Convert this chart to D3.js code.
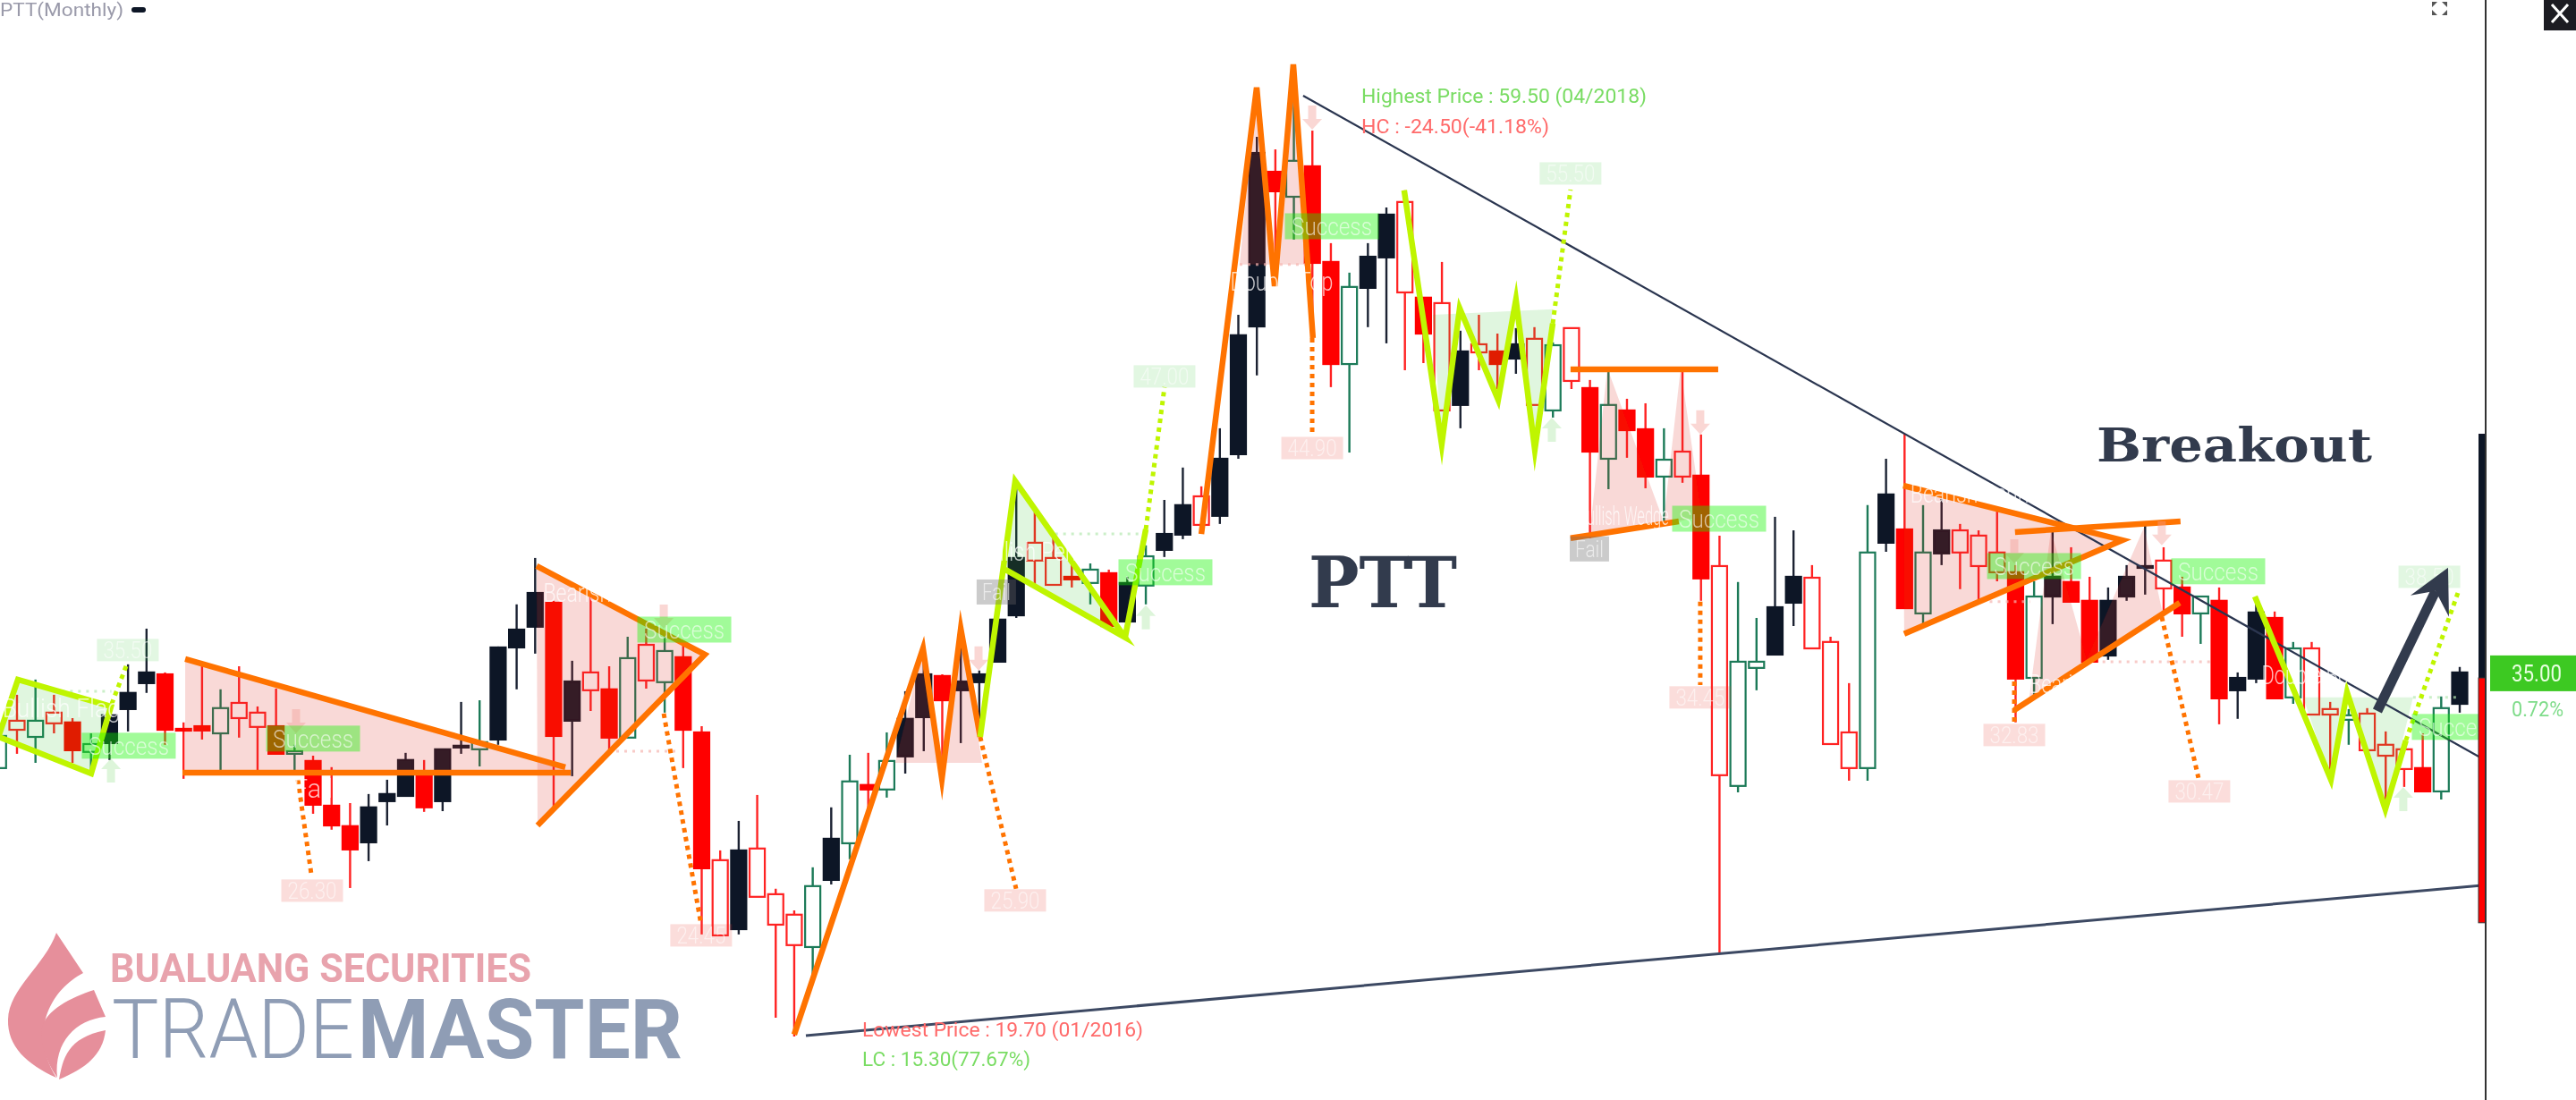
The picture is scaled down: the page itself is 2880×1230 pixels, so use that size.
<!DOCTYPE html>
<html>
<head>
    <meta charset="utf-8" />
    <title>PTT monthly breakout</title>
    <style>
        html, body { margin: 0; padding: 0; background: #fff; overflow: hidden; }
    </style>
    <script src="https://cdnjs.cloudflare.com/ajax/libs/d3/7.8.5/d3.min.js"></script>
</head>
<body>
    <div id="svg"></div>

    <script type="text/javascript">
        // monthly candles, index 43 = 01/2016, index 70 = 04/2018
        // K black solid, R red solid, r red hollow, g green hollow
        var kinds = ('grgrRgKKKR' + 'RRgrrRgRRR' + 'KKKRKKgKKK' + 'RKrRgrgRRr' + 'KrrrgKgRgK' +
            'KRKKKKrrRg' + 'RKgKKrKKKR' + 'gRRgKKrRrK' + 'rRKrgrRgRR' + 'grRrggKKrr' +
            'rgKRgKrrrR' + 'gKRRKKKrRg' + 'RKKRgrrgrr' + 'rRgK').split('');

        var bodyTops = [32.33,32.97,32.97,33.31,32.90,31.99,33.20,34.14,35.00,34.92,
            32.63,32.74,33.50,33.72,33.31,32.74,31.69,31.28,29.40,28.54,
            29.33,29.89,31.32,30.83,31.77,31.92,32.07,36.05,36.80,38.34,
            37.93,34.62,35.00,34.29,35.60,36.16,35.90,35.64,32.48,27.11,
            27.52,27.60,25.68,24.82,26.02,28.01,30.42,30.27,31.28,33.05,
            34.92,34.85,34.62,34.92,37.22,39.81,40.45,39.81,39.02,39.32,
            39.17,38.76,39.88,40.82,42.03,42.40,43.98,49.17,56.83,56.04,
            56.50,56.27,52.25,51.20,52.47,54.24,54.77,50.75,50.52,48.49,
            48.79,48.49,48.79,49.02,48.75,49.47,46.95,46.24,46.01,45.22,
            43.94,44.28,43.27,39.47,35.45,35.45,37.74,39.02,38.98,36.28,
            32.48,40.04,42.48,41.01,40.04,40.97,40.97,40.75,40.04,39.21,
            38.19,39.02,38.80,38.01,38.01,39.02,39.47,39.70,38.57,38.19,
            38.01,34.77,37.52,37.29,36.01,36.01,33.46,33.20,33.27,31.96,
            31.77,30.98,33.50,35.00];

        var bodyBottoms = [30.98,32.59,32.29,32.86,31.73,31.66,32.03,33.46,34.55,32.59,
            32.56,32.56,32.44,33.08,32.71,31.58,31.58,29.44,28.57,27.56,
            27.86,29.59,29.81,29.33,29.59,31.88,31.77,32.18,36.05,36.92,
            32.33,32.97,34.25,32.26,32.26,34.66,34.59,32.59,26.77,23.95,
            24.21,25.57,24.40,23.54,23.46,26.28,27.82,30.08,30.08,31.47,
            33.12,33.83,34.25,34.59,35.45,37.40,39.70,38.68,38.91,38.76,
            36.95,37.14,38.65,40.15,40.79,41.20,41.58,44.17,49.54,55.22,
            54.99,52.21,47.96,47.96,51.16,52.44,50.97,49.24,46.01,46.24,
            48.45,47.96,48.19,46.24,46.01,47.25,44.28,43.98,45.18,43.23,
            43.23,43.23,38.95,30.68,30.23,35.19,35.75,37.93,36.01,31.99,
            30.98,30.98,40.45,37.70,37.48,40.00,40.04,39.47,39.21,34.74,
            34.77,38.19,37.97,35.45,35.71,38.19,39.43,38.53,37.48,37.48,
            33.91,34.25,34.74,33.91,33.95,33.23,33.23,33.01,31.73,31.50,
            30.94,30.00,30.00,33.68];

        var highs = [32.56,34.06,34.70,34.06,33.08,32.44,33.31,35.34,36.84,35.00,
            32.90,35.26,34.29,35.26,33.57,34.32,31.96,31.50,31.02,29.51,
            29.89,30.49,31.62,31.32,31.77,33.76,33.83,36.09,37.86,39.81,
            38.01,35.49,38.19,35.26,36.50,36.84,36.58,36.13,32.74,27.52,
            28.76,29.85,25.91,25.00,26.81,29.33,31.54,31.62,32.48,34.21,
            35.53,34.92,36.20,35.08,37.22,43.04,41.73,40.64,39.66,39.58,
            39.32,39.02,40.34,42.25,43.61,42.82,45.26,50.03,57.51,56.98,
            59.50,57.77,53.04,51.80,53.04,54.54,55.26,50.75,52.25,49.36,
            50.03,49.24,49.47,49.51,48.87,49.47,47.29,47.78,46.50,46.31,
            45.26,47.78,45.00,40.75,38.80,37.29,41.54,40.97,39.51,36.50,
            34.55,42.03,43.98,45.03,42.03,42.29,41.24,40.97,41.95,39.51,
            38.83,40.90,40.26,39.02,38.57,39.51,41.16,40.26,39.02,38.19,
            38.57,35.00,38.19,37.56,36.28,36.28,33.76,33.46,33.50,32.52,
            31.77,32.44,33.99,35.23];

        var lows = [30.94,31.58,31.20,32.44,31.20,30.83,31.32,32.52,34.14,31.96,
            30.53,32.18,30.83,32.26,30.68,31.58,30.83,29.06,28.39,25.94,
            27.07,28.57,29.81,29.14,29.17,31.58,31.05,31.96,34.29,35.79,
            29.36,30.64,33.38,31.69,32.26,34.32,33.31,30.98,23.99,23.95,
            23.99,25.57,20.49,19.70,22.26,26.09,27.15,29.06,29.74,30.75,
            31.69,30.94,32.03,33.05,35.41,37.29,38.72,38.68,38.57,37.86,
            36.88,37.14,37.86,39.85,40.60,41.20,41.24,43.98,47.48,51.23,
            53.19,48.98,46.99,44.24,49.51,48.83,47.70,48.00,46.01,45.26,
            47.70,46.91,47.55,46.24,45.71,46.91,40.64,42.70,44.02,42.74,
            41.28,42.97,38.01,23.16,29.96,34.25,35.75,36.95,36.01,31.99,
            30.45,30.45,40.07,37.70,37.03,39.51,38.50,38.01,38.83,32.90,
            34.02,37.03,37.97,35.45,35.53,38.01,38.27,37.52,36.50,36.20,
            32.82,33.05,34.55,33.91,33.68,33.23,30.68,31.96,31.73,29.55,
            30.19,30.00,29.66,33.31];

        // pattern outlines, [month index, price]
        var orangeLines = [
            [[10.09,35.56],[30.63,31.02]],
            [[9.94,30.79],[30.92,30.79]],
            [[29.08,39.47],[38.17,35.75],[29.13,28.57]],
            [[43.0,19.78],[49.96,36.01],[50.98,30.53],[52.0,36.84],[53.05,32.29]],
            [[65.0,40.82],[67.99,59.58],[68.96,51.23],[69.97,60.55],[71.03,49.05]],
            [[84.95,47.74],[92.93,47.74]],
            [[84.95,40.64],[90.8,41.35]],
            [[102.93,42.85],[114.77,40.56],[102.98,36.62]],
            [[108.97,40.90],[117.91,41.35]],
            [[108.93,33.42],[117.87,37.93]]
        ];
        var limeLines = [
            [[0,32.3],[1.05,34.7],[6.08,33.57],[5.01,30.75],[0,32.3]],
            [[53.05,32.29],[54.94,43.04],[60.88,36.47],[54.41,39.32]],
            [[60.88,36.47],[62.0,41.01]],
            [[75.96,55.26],[77.99,44.58],[78.96,50.3],[81.04,46.46],[82.0,50.67],[83.02,44.36],[83.99,49.66]],
            [[121.93,38.19],[126.04,30.49],[126.91,34.17],[128.98,29.25],[130.09,32.14]]
        ];
        var orangeDots = [
            [[16.18,30.49],[16.9,26.54]],
            [[35.95,33.27],[37.97,24.40]],
            [[53.05,32.29],[54.99,25.91]],
            [[70.99,49.05],[70.99,44.96]],
            [[91.96,37.97],[91.96,34.47]],
            [[108.93,34.62],[108.93,32.86]],
            [[116.9,37.33],[118.88,30.57]]
        ];
        var limeDots = [
            [[6.12,33.68],[6.95,35.37]],
            [[62.0,41.01],[63.01,46.99]],
            [[83.99,49.66],[84.95,55.29]],
            [[130.09,32.14],[132.9,38.34]]
        ];
        var redFills = [
            [[10.09,35.56],[30.63,31.02],[30.63,30.79],[10.09,30.79]],
            [[29.08,39.47],[38.17,35.75],[29.13,28.57]],
            [[48.46,31.20],[49.96,36.01],[50.98,31.20],[52.0,36.84],[53.15,31.20]],
            [[67.07,52.14],[67.99,59.58],[68.96,52.14],[69.97,60.55],[70.79,52.14]],
            [[85.97,40.71],[86.94,47.78],[89.98,41.35],[90.9,47.78],[92.06,41.54]],
            [[102.93,42.85],[114.77,40.56],[102.98,36.62]],
            [[109.7,33.68],[110.91,40.97],[112.84,35.56],[115.94,41.09],[116.95,37.48]]
        ];
        var greenFills = [
            [[0,32.3],[1.05,34.7],[6.08,33.57],[5.01,30.75]],
            [[54.94,43.04],[60.88,36.47],[54.41,39.32]],
            [[77.51,50.03],[77.99,44.58],[78.96,50.03],[81.04,46.46],[82.0,50.18],[83.02,44.36],[83.99,50.26]],
            [[124.54,33.95],[126.04,30.49],[126.91,33.95],[128.98,29.25],[130.48,33.95]]
        ];
        var paleRedRules = [
            [[32.95,31.69],[36.8,31.69]],
            [[113.7,35.45],[119.5,35.45]],
            [[107.6,37.97],[109.8,37.97]],
            [[67.07,52.14],[70.79,52.14]]
        ];
        var paleGreenRules = [
            [[3,34.21],[6.1,34.21]],
            [[57.1,40.82],[62,40.82]],
            [[130.48,33.95],[132.9,33.95]]
        ];
        var resistanceLine = [[70.5,59.24],[134.35,31.32]];
        var supportLine = [[43.63,19.74],[134.35,26.06]];
        var breakoutArrow = [[128.55,33.38],[132.37,39.40]];

        // labels, [month index, price, text]
        var successLabels = [
            [7.04,31.92],[17.0,32.22],[37.06,36.8],[63.06,39.21],[72.05,53.75],
            [92.98,41.46],[110.0,39.47],[119.95,39.25],[132.95,32.71]
        ];
        var upTargets = [[6.99,35.94,'35.50'],[63.01,47.44,'47.00'],[84.95,55.97,'55.50'],[131.36,39.02,'38.50']];
        var downTargets = [
            [16.95,25.83,'26.30'],[37.97,23.95,'24.45'],[54.94,25.42,'25.90'],[70.99,44.43,'44.90'],
            [91.96,33.95,'34.45'],[108.93,32.37,'32.83'],[118.93,30.00,'30.47']
        ];
        var failLabels = [[53.92,38.38],[85.97,40.19]];
        var patternNames = [
            [3.4,33.5,'Bullish Flag',132],[33.43,38.34,'Bearish Pennant',165],[17.0,30.11,'Fail',44],
            [69.34,51.42,'Double Top',115],[56.63,40.07,'Bullish Pennant',160],[87.8,41.58,'Bullish Wedge',102],
            [107.3,42.51,'Bearish Pennant',165],[113.2,34.51,'Bearish Wedge',143],[125.75,34.89,'Double Bottom',143]
        ];
        var downArrows = [[16.08,32.44],[35.95,36.84],[52.96,35.08],[70.99,57.81],[91.96,45.0],[108.93,39.58],[116.9,40.34]];
        var upArrows = [[6.08,31.39],[62.0,37.82],[83.94,45.71],[129.95,30.19]];

        var lastPrice = 35.00,
            changeText = '0.72%';
        var sideBarStops = [45.03, 34.77, 24.48];

        var width = 2880,
            height = 1230,
            axisX = 2779;

        var colors = {
            black: '#0f1626',
            red: '#ff0000',
            hollowRed: '#ff2222',
            green: '#1c7a58',
            orange: '#ff7300',
            lime: '#bff500',
            ink: '#333b4d'
        };

        var svg = d3.select('#svg')
            .append('svg')
            .attr('width', width)
            .attr('height', height)
            .style('display', 'block');

        var defs = svg.append('defs');
        defs.append('filter').attr('id', 'soft')
            .attr('x', 0).attr('y', 0).attr('width', 1).attr('height', 1)
            .attr('filterUnits', 'objectBoundingBox')
            .append('feGaussianBlur').attr('stdDeviation', 0.6);
        defs.append('clipPath').attr('id', 'plot')
            .append('rect').attr('width', axisX - 1).attr('height', height);

        var root = svg.append('g').attr('filter', 'url(#soft)');
        root.append('rect').attr('width', width).attr('height', height).attr('fill', '#fff');

        var xScale = d3.scaleLinear().domain([0, 133]).range([-1.7, 2750]);
        var yScale = d3.scaleLinear().domain([19.7, 59.5]).range([1159, 100]);

        var line = d3.line().x(d => xScale(d[0])).y(d => yScale(d[1]));

        var plot = root.append('g').attr('clip-path', 'url(#plot)');

        // candles
        var wickColor = { K: '#1a2233', R: colors.hollowRed, r: colors.hollowRed, g: colors.green };
        var bodyFill = { K: colors.black, R: colors.red, r: '#fff', g: '#fff' };
        var bodyStroke = { K: colors.black, R: colors.red, r: colors.hollowRed, g: colors.green };
        var index = d3.range(kinds.length);

        plot.selectAll('.wick')
            .data(index)
            .enter()
            .append('line')
            .attr('x1', i => xScale(i))
            .attr('x2', i => xScale(i))
            .attr('y1', i => yScale(highs[i]))
            .attr('y2', i => yScale(lows[i]))
            .attr('stroke', i => wickColor[kinds[i]])
            .attr('stroke-width', 2.4);

        plot.selectAll('.body')
            .data(index)
            .enter()
            .append('rect')
            .attr('x', i => xScale(i) - 8.5)
            .attr('width', 17)
            .attr('y', i => yScale(bodyTops[i]))
            .attr('height', i => Math.max(2, yScale(bodyBottoms[i]) - yScale(bodyTops[i])))
            .attr('fill', i => bodyFill[kinds[i]])
            .attr('stroke', i => bodyStroke[kinds[i]])
            .attr('stroke-width', 2.2);

        // pattern areas
        function drawAreas(data, fill, opacity) {
            plot.append('g').selectAll('path')
                .data(data)
                .enter()
                .append('path')
                .attr('d', d => line(d) + 'Z')
                .attr('fill', fill)
                .attr('opacity', opacity);
        }
        drawAreas(redFills, '#de2c21', 0.18);
        drawAreas(greenFills, '#2fc22a', 0.15);

        function drawLines(data, color, widthPx, dash, opacity) {
            plot.append('g').selectAll('path')
                .data(data)
                .enter()
                .append('path')
                .attr('d', line)
                .attr('fill', 'none')
                .attr('stroke', color)
                .attr('stroke-width', widthPx)
                .attr('stroke-linejoin', 'miter')
                .attr('stroke-miterlimit', 8)
                .attr('stroke-dasharray', dash)
                .attr('opacity', opacity === undefined ? 1 : opacity);
        }

        drawLines(paleRedRules, '#f5b5b0', 3, '3 6', 0.7);
        drawLines(paleGreenRules, '#b5e8b0', 3, '3 6', 0.7);
        drawLines([resistanceLine], '#2b3650', 2.2);
        drawLines([supportLine], '#3c4a63', 3);
        drawLines(orangeDots, colors.orange, 5, '5 5');
        drawLines(limeDots, colors.lime, 5, '5 5');
        drawLines(orangeLines, colors.orange, 6.5);
        drawLines(limeLines, colors.lime, 6.5);

        // pale signal arrows
        var arrowDown = 'M-4.5,-27H4.5V-12H11L0,0L-11,-12H-4.5Z';
        var arrowUp = 'M-4.5,27H4.5V12H11L0,0L-11,12H-4.5Z';
        plot.append('g').selectAll('path')
            .data(downArrows)
            .enter()
            .append('path')
            .attr('d', arrowDown)
            .attr('transform', d => 'translate(' + xScale(d[0]) + ',' + yScale(d[1]) + ')')
            .attr('fill', '#f39a94')
            .attr('opacity', 0.4);
        plot.append('g').selectAll('path')
            .data(upArrows)
            .enter()
            .append('path')
            .attr('d', arrowUp)
            .attr('transform', d => 'translate(' + xScale(d[0]) + ',' + yScale(d[1]) + ')')
            .attr('fill', '#a9e6a2')
            .attr('opacity', 0.4);

        var labelFont = 'Roboto, sans-serif';

        function tagText(sel, fill, size, lengthPx) {
            sel.attr('text-anchor', 'middle')
                .attr('font-family', labelFont)
                .attr('font-weight', 300)
                .attr('font-size', size)
                .attr('fill', fill)
                .attr('textLength', lengthPx)
                .attr('lengthAdjust', 'spacingAndGlyphs');
        }

        // hidden white pattern names, they only show over candles and fills
        tagText(plot.append('g').selectAll('text')
            .data(patternNames)
            .enter()
            .append('text')
            .attr('x', d => xScale(d[0]))
            .attr('y', d => yScale(d[1]) + 10)
            .attr('opacity', 0.75)
            .text(d => d[2]), '#fff', 29, d => d[3]);

        function boxedLabels(data, text, w, h, fill, opacity, ink, size, textW) {
            var g = plot.append('g').selectAll('g')
                .data(data)
                .enter()
                .append('g')
                .attr('transform', d => 'translate(' + xScale(d[0]) + ',' + yScale(d[1]) + ')');
            g.append('rect')
                .attr('x', -w / 2)
                .attr('y', -h / 2)
                .attr('width', w)
                .attr('height', h)
                .attr('fill', fill)
                .attr('opacity', opacity);
            var label = g.append('text')
                .attr('y', size * 0.36)
                .text(text);
            tagText(label, ink, size, textW);
        }

        boxedLabels(successLabels, 'Success', 105, 29, '#14f500', 0.4, 'rgba(255,255,255,0.6)', 27, 90);
        boxedLabels(upTargets, d => d[2], 69, 25, '#3cc83a', 0.15, 'rgba(255,255,255,0.55)', 25, 55);
        boxedLabels(downTargets, d => d[2], 69, 25, '#e8443a', 0.18, 'rgba(255,255,255,0.55)', 25, 55);
        boxedLabels(failLabels, 'Fail', 44, 28, '#6a6a6a', 0.35, 'rgba(255,255,255,0.6)', 25, 32);

        // breakout arrow
        var tip = [xScale(breakoutArrow[1][0]), yScale(breakoutArrow[1][1])];
        plot.append('line')
            .attr('x1', xScale(breakoutArrow[0][0]))
            .attr('y1', yScale(breakoutArrow[0][1]))
            .attr('x2', tip[0] - 14)
            .attr('y2', tip[1] + 26)
            .attr('stroke', colors.ink)
            .attr('stroke-width', 11);
        plot.append('polygon')
            .attr('points', [[0, 0], [-42, 31], [-14, 26], [1, 55]].map(p => (tip[0] + p[0]) + ',' + (tip[1] + p[1])).join(' '))
            .attr('fill', colors.ink);

        // price extreme notes
        var notes = [
            ['Highest Price : 59.50 (04/2018)', 1522, 115, 319, '#79dc63'],
            ['HC : -24.50(-41.18%)', 1522, 149, 210, '#ff6a6a'],
            ['Lowest Price : 19.70 (01/2016)', 964, 1159, 314, '#ff6a6a'],
            ['LC : 15.30(77.67%)', 964, 1192, 188, '#79dc63']
        ];
        root.append('g').selectAll('text')
            .data(notes)
            .enter()
            .append('text')
            .attr('x', d => d[1])
            .attr('y', d => d[2])
            .attr('textLength', d => d[3])
            .attr('lengthAdjust', 'spacingAndGlyphs')
            .attr('font-family', labelFont)
            .attr('font-size', 22)
            .attr('fill', d => d[4])
            .text(d => d[0]);

        // big hand written titles
        root.append('text')
            .attr('x', 1463).attr('y', 679)
            .attr('textLength', 166).attr('lengthAdjust', 'spacingAndGlyphs')
            .attr('font-family', '"DejaVu Serif", serif').attr('font-weight', 700)
            .attr('font-size', 78).attr('fill', colors.ink)
            .text('PTT');
        root.append('text')
            .attr('x', 2344).attr('y', 516)
            .attr('textLength', 308).attr('lengthAdjust', 'spacingAndGlyphs')
            .attr('font-family', '"DejaVu Serif", serif').attr('font-weight', 700)
            .attr('font-size', 53).attr('fill', colors.ink)
            .text('Breakout');

        // side bar and axis edge
        root.append('rect')
            .attr('x', axisX - 8).attr('width', 8)
            .attr('y', yScale(sideBarStops[0]))
            .attr('height', yScale(sideBarStops[1]) - yScale(sideBarStops[0]))
            .attr('fill', colors.black);
        root.append('rect')
            .attr('x', axisX - 8).attr('width', 8)
            .attr('y', yScale(sideBarStops[1]))
            .attr('height', yScale(sideBarStops[2]) - yScale(sideBarStops[1]))
            .attr('fill', colors.red)
            .attr('stroke', '#333').attr('stroke-width', 1);
        root.append('line')
            .attr('x1', axisX).attr('x2', axisX)
            .attr('y1', 0).attr('y2', height)
            .attr('stroke', '#333').attr('stroke-width', 2);

        // last price tag
        root.append('rect')
            .attr('x', 2784).attr('width', 96)
            .attr('y', yScale(lastPrice) - 19).attr('height', 40)
            .attr('fill', '#3ec924');
        root.append('text')
            .attr('x', 2836).attr('y', yScale(lastPrice) + 10)
            .attr('text-anchor', 'middle')
            .attr('textLength', 56).attr('lengthAdjust', 'spacingAndGlyphs')
            .attr('font-family', labelFont).attr('font-size', 25)
            .attr('fill', '#e8ffe0')
            .text(lastPrice.toFixed(2));
        root.append('text')
            .attr('x', 2837).attr('y', yScale(lastPrice) + 49)
            .attr('text-anchor', 'middle')
            .attr('textLength', 58).attr('lengthAdjust', 'spacingAndGlyphs')
            .attr('font-family', labelFont).attr('font-size', 23)
            .attr('fill', '#7fdc8a')
            .text(changeText);

        // chart title and window buttons
        root.append('text')
            .attr('x', 0).attr('y', 18)
            .attr('textLength', 138).attr('lengthAdjust', 'spacingAndGlyphs')
            .attr('font-family', labelFont).attr('font-size', 21)
            .attr('fill', '#9a9aaa')
            .text('PTT(Monthly)');
        root.append('rect')
            .attr('x', 147).attr('y', 8).attr('width', 16).attr('height', 6).attr('rx', 3)
            .attr('fill', colors.black);

        root.append('rect')
            .attr('x', 2844).attr('y', 0).attr('width', 36).attr('height', 34)
            .attr('fill', '#1c1f24');
        root.append('path')
            .attr('d', 'M2853,5L2871,25M2871,5L2853,25')
            .attr('stroke', '#fff').attr('stroke-width', 3);
        root.append('path')
            .attr('d', 'M2719,2h6l-6,6zM2736,2h-6l6,6zM2719,17h6l-6,-6zM2736,17h-6l6,-6z')
            .attr('fill', '#555');

        // broker logo
        var logo = root.append('g');
        logo.append('path')
            .attr('d', 'M63,1043L93,1088C60,1105 30,1150 63,1205C30,1190 8,1170 9,1140C10,1105 50,1080 63,1043Z')
            .attr('fill', '#e68f9b');
        logo.append('path')
            .attr('d', 'M105,1107L118,1137C85,1140 60,1165 64,1205C50,1185 45,1165 47,1150C50,1130 80,1115 105,1107Z')
            .attr('fill', '#e68f9b');
        logo.append('path')
            .attr('d', 'M118,1152C115,1180 95,1195 66,1207C70,1185 75,1160 118,1152Z')
            .attr('fill', '#e68f9b');
        logo.append('text')
            .attr('x', 123).attr('y', 1098)
            .attr('textLength', 471).attr('lengthAdjust', 'spacingAndGlyphs')
            .attr('font-family', labelFont).attr('font-weight', 700).attr('font-size', 45)
            .attr('fill', '#e8a3ad')
            .text('BUALUANG SECURITIES');
        logo.append('text')
            .attr('x', 125).attr('y', 1183)
            .attr('textLength', 271).attr('lengthAdjust', 'spacingAndGlyphs')
            .attr('font-family', labelFont).attr('font-weight', 300).attr('font-size', 92)
            .attr('fill', '#8f9db5')
            .text('TRADE');
        logo.append('text')
            .attr('x', 400).attr('y', 1183)
            .attr('textLength', 363).attr('lengthAdjust', 'spacingAndGlyphs')
            .attr('font-family', labelFont).attr('font-weight', 700).attr('font-size', 92)
            .attr('fill', '#8f9db5')
            .text('MASTER');
    </script>
</body>
</html>
